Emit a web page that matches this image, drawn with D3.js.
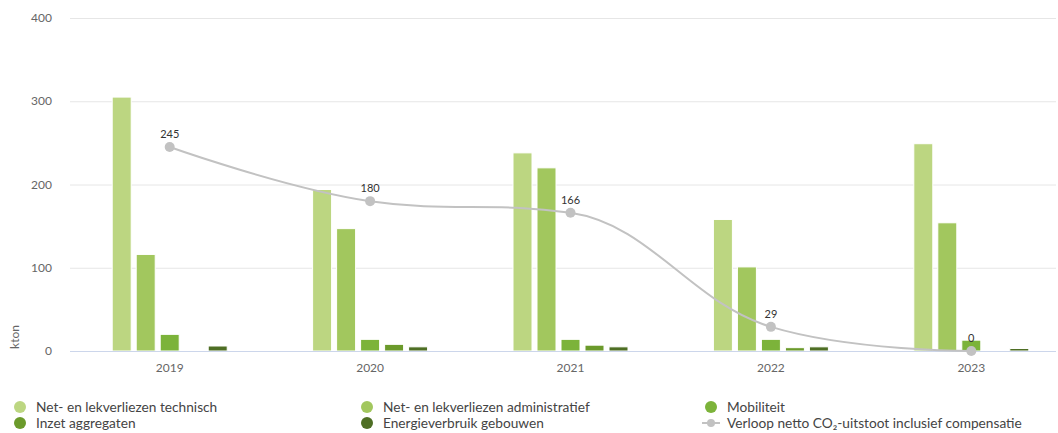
<!DOCTYPE html>
<html>
<head>
<meta charset="utf-8">
<script src="https://cdn.jsdelivr.net/npm/d3@7"></script>
<style>
  body { margin: 0; background: #fff; }
  svg { font-family: Lato, "Open Sans", sans-serif; display: block; }
</style>
</head>
<body>
<svg id="chart"></svg>
<script>
// data
const years = ["2019", "2020", "2021", "2022", "2023"];
const seriesNames = [
  "Net- en lekverliezen technisch",
  "Net- en lekverliezen administratief",
  "Mobiliteit",
  "Inzet aggregaten",
  "Energieverbruik gebouwen"
];
const technisch = [305, 194, 238, 158, 249];
const administratief = [116, 147, 220, 101, 154];
const mobiliteit = [20, 14, 14, 14, 13];
const aggregaten = [0, 8, 7, 4, 0];
const gebouwen = [6, 5, 5, 5, 3];
const lineName = "Verloop netto CO\u2082-uitstoot inclusief compensatie";
const netto = [245, 180, 166, 29, 0];
const yTicks = [0, 100, 200, 300, 400];

const barSeries = [technisch, administratief, mobiliteit, aggregaten, gebouwen];
const colors = ["#bcd681", "#a2c75e", "#7cb33a", "#6b9a2b", "#4e6e24"];
const lineColor = "#c2c2c2";

const width = 1058, height = 433;
const svg = d3.select("#chart").attr("width", width).attr("height", height);

// scales
const x = d3.scaleBand().domain(years).range([69.5, 1071.5]);
const inner = d3.scaleBand().domain(d3.range(5)).range([-60, 60]).paddingInner(5 / 24).paddingOuter(5 / 48);
const y = d3.scaleLinear().domain([0, 400]).range([351, 18]);
const gridRight = 1056;

// gridlines
svg.append("g").selectAll("line")
  .data(yTicks.filter(d => d > 0))
  .join("line")
  .attr("x1", 70).attr("x2", gridRight)
  .attr("y1", d => y(d) + 0.5).attr("y2", d => y(d) + 0.5)
  .attr("stroke", "#e6e6e6");

// y labels
svg.append("g").selectAll("text")
  .data(yTicks)
  .join("text")
  .attr("x", 52).attr("y", d => y(d) + 4)
  .attr("text-anchor", "end")
  .attr("fill", "#666")
  .style("font-size", "12px")
  .text(d => d);

svg.append("text")
  .attr("transform", "translate(19,337)rotate(-90)")
  .attr("text-anchor", "middle")
  .attr("fill", "#666")
  .style("font-size", "12px")
  .text("kton");

// bars
barSeries.forEach((vals, s) => {
  svg.append("g").selectAll("rect")
    .data(vals.map((v, i) => ({ year: years[i], v })))
    .join("rect")
    .filter(d => d.v > 0)
    .attr("x", d => x(d.year) + x.bandwidth() / 2 + inner(s))
    .attr("width", inner.bandwidth())
    .attr("y", d => y(d.v))
    .attr("height", d => y(0) - y(d.v))
    .attr("fill", colors[s])
    .attr("stroke", "#fff")
    .attr("stroke-width", 1);
});

// x axis line
svg.append("line")
  .attr("x1", 70).attr("x2", gridRight)
  .attr("y1", y(0) + 0.5).attr("y2", y(0) + 0.5)
  .attr("stroke", "#ccd6eb");

svg.append("g").selectAll("text")
  .data(years)
  .join("text")
  .attr("x", d => x(d) + x.bandwidth() / 2)
  .attr("y", 372)
  .attr("text-anchor", "middle")
  .attr("fill", "#666")
  .style("font-size", "12px")
  .text(d => d);

// spline (highcharts style smoothing)
const pts = netto.map((v, i) => ({ px: x(years[i]) + x.bandwidth() / 2, py: y(v), v }));
const path = d3.path();
pts.forEach((p, i) => {
  const prev = pts[i - 1], next = pts[i + 1];
  let lcx = p.px, lcy = p.py;
  if (prev && next) {
    const sm = 1.5, den = 2.5;
    lcx = (sm * p.px + prev.px) / den;
    lcy = (sm * p.py + prev.py) / den;
    let rcx = (sm * p.px + next.px) / den;
    let rcy = (sm * p.py + next.py) / den;
    const corr = ((rcy - lcy) * (rcx - p.px)) / (rcx - lcx) + p.py - rcy;
    lcy += corr; rcy += corr;
    if (lcy > prev.py && lcy > p.py) { lcy = Math.max(prev.py, p.py); rcy = 2 * p.py - lcy; }
    else if (lcy < prev.py && lcy < p.py) { lcy = Math.min(prev.py, p.py); rcy = 2 * p.py - lcy; }
    if (rcy > next.py && rcy > p.py) { rcy = Math.max(next.py, p.py); lcy = 2 * p.py - rcy; }
    else if (rcy < next.py && rcy < p.py) { rcy = Math.min(next.py, p.py); lcy = 2 * p.py - rcy; }
    p.rcx = rcx; p.rcy = rcy;
  }
  if (i === 0) path.moveTo(p.px, p.py);
  else path.bezierCurveTo(prev.rcx ?? prev.px, prev.rcy ?? prev.py, lcx, lcy, p.px, p.py);
});

svg.append("path")
  .attr("d", path.toString())
  .attr("fill", "none")
  .attr("stroke", lineColor)
  .attr("stroke-width", 2);

svg.append("g").selectAll("circle")
  .data(pts)
  .join("circle")
  .attr("cx", d => d.px).attr("cy", d => d.py)
  .attr("r", 5)
  .attr("fill", lineColor);

svg.append("g").selectAll("text")
  .data(pts)
  .join("text")
  .attr("x", d => d.px).attr("y", d => d.py - 9)
  .attr("text-anchor", "middle")
  .attr("fill", "#333")
  .style("font-size", "11px")
  .text(d => d.v);

// legend
const legendItems = seriesNames.map((n, i) => ({ name: n, color: colors[i], type: "bar" }))
  .concat([{ name: lineName, color: lineColor, type: "line" }]);
const colX = [20, 367, 711];
const rowY = [407, 423];

const leg = svg.append("g").selectAll("g")
  .data(legendItems)
  .join("g")
  .attr("transform", (d, i) => `translate(${colX[i % 3]},${rowY[Math.floor(i / 3)]})`);

leg.filter(d => d.type === "bar").append("circle")
  .attr("r", 6).attr("fill", d => d.color);

leg.filter(d => d.type === "line").append("line")
  .attr("x1", -9).attr("x2", 9)
  .attr("stroke", lineColor).attr("stroke-width", 2);
leg.filter(d => d.type === "line").append("circle")
  .attr("r", 4).attr("fill", lineColor);

leg.append("text")
  .attr("x", 16).attr("y", 4.5)
  .attr("fill", "#444")
  .style("font-size", "13.7px")
  .text(d => d.name);
</script>
</body>
</html>
